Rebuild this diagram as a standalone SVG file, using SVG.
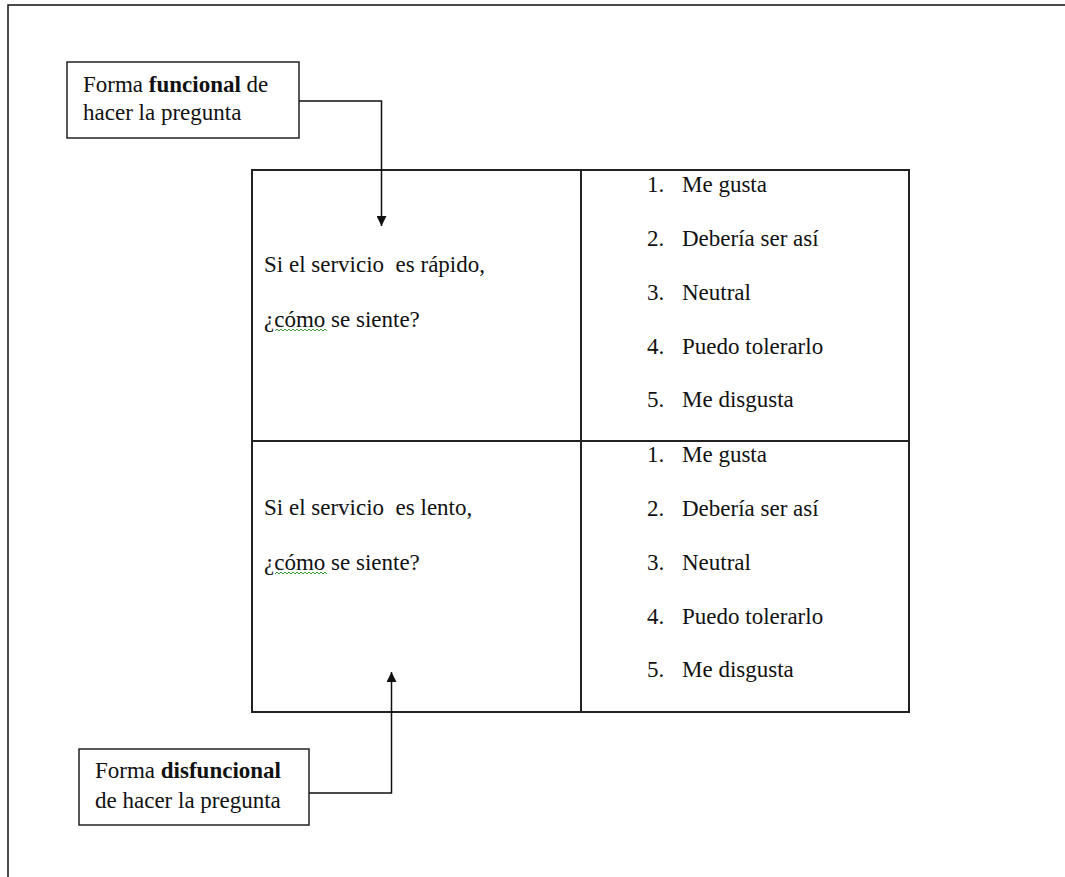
<svg xmlns="http://www.w3.org/2000/svg" width="1065" height="877" viewBox="0 0 1065 877">
<style>
  text { font-family: "Liberation Serif", "Times New Roman", serif; font-size: 23px; fill: #111; }
  .b { font-weight: bold; }
  .frame { fill: none; stroke: #111; stroke-width: 1.5; }
  .box { fill: #fff; stroke: #222; stroke-width: 1.5; }
  .cell { fill: none; stroke: #222; stroke-width: 2; }
  .conn { fill: none; stroke: #111; stroke-width: 1.5; }
  .squig { fill: none; stroke: #3a9a3a; stroke-width: 1; }
</style>
<defs>
  <marker id="arrow" viewBox="0 0 10 10" refX="10" refY="5" markerWidth="10" markerHeight="10" markerUnits="userSpaceOnUse" orient="auto">
    <path d="M0,0 L10,5 L0,10 Z" fill="#111"/>
  </marker>
</defs>
<rect x="0" y="0" width="1065" height="877" fill="#fff"/>
<g id="frame">
  <path class="frame" d="M1065,5 L8,5 L8,877"/>
</g>
<g id="table">
  <rect class="cell" x="252" y="170" width="657" height="542"/>
  <line class="cell" x1="252" y1="441" x2="909" y2="441"/>
  <line class="cell" x1="581" y1="170" x2="581" y2="712"/>
</g>
<g id="cell-q1">
  <text x="264" y="272" xml:space="preserve">Si el servicio  es rápido,</text>
  <text x="264" y="327">¿cómo se siente?</text>
  <path class="squig" d="M275,331 l2,-2 l2,2 l2,-2 l2,2 l2,-2 l2,2 l2,-2 l2,2 l2,-2 l2,2 l2,-2 l2,2 l2,-2 l2,2 l2,-2 l2,2 l2,-2 l2,2 l2,-2 l2,2 l2,-2 l2,2 l2,-2 l2,2 l2,-2 l2,2"/>
</g>
<g id="cell-a1">
  <text x="647" y="192">1.</text><text x="682" y="192">Me gusta</text>
  <text x="647" y="246">2.</text><text x="682" y="246">Debería ser así</text>
  <text x="647" y="300">3.</text><text x="682" y="300">Neutral</text>
  <text x="647" y="354">4.</text><text x="682" y="354">Puedo tolerarlo</text>
  <text x="647" y="407">5.</text><text x="682" y="407">Me disgusta</text>
</g>
<g id="cell-q2">
  <text x="264" y="515" xml:space="preserve">Si el servicio  es lento,</text>
  <text x="264" y="570">¿cómo se siente?</text>
  <path class="squig" d="M275,574 l2,-2 l2,2 l2,-2 l2,2 l2,-2 l2,2 l2,-2 l2,2 l2,-2 l2,2 l2,-2 l2,2 l2,-2 l2,2 l2,-2 l2,2 l2,-2 l2,2 l2,-2 l2,2 l2,-2 l2,2 l2,-2 l2,2 l2,-2 l2,2"/>
</g>
<g id="cell-a2">
  <text x="647" y="462">1.</text><text x="682" y="462">Me gusta</text>
  <text x="647" y="516">2.</text><text x="682" y="516">Debería ser así</text>
  <text x="647" y="570">3.</text><text x="682" y="570">Neutral</text>
  <text x="647" y="624">4.</text><text x="682" y="624">Puedo tolerarlo</text>
  <text x="647" y="677">5.</text><text x="682" y="677">Me disgusta</text>
</g>
<g id="label-funcional">
  <rect class="box" x="67" y="62" width="232" height="76"/>
  <text x="83" y="92">Forma <tspan class="b">funcional</tspan> de</text>
  <text x="83" y="120">hacer la pregunta</text>
</g>
<g id="label-disfuncional">
  <rect class="box" x="79" y="749" width="230" height="76"/>
  <text x="95" y="778">Forma <tspan class="b">disfuncional</tspan></text>
  <text x="95" y="808">de hacer la pregunta</text>
</g>
<g id="connectors">
  <path class="conn" d="M299,101 L381.5,101 L381.5,226" marker-end="url(#arrow)"/>
  <path class="conn" d="M309,793 L391.5,793 L391.5,672" marker-end="url(#arrow)"/>
</g>
</svg>
